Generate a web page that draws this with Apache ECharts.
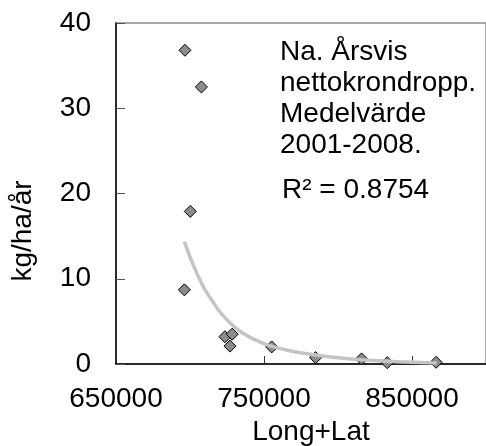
<!DOCTYPE html>
<html>
<head>
<meta charset="utf-8">
<script src="https://cdn.jsdelivr.net/npm/echarts@6/dist/echarts.min.js"></script>
<style>
html,body{margin:0;padding:0;background:#fff;}
#c{width:486px;height:446px;}
</style>
</head>
<body>
<div id="c"></div>
<script>
// Scatter points (Long+Lat, kg/ha/år)
var xValues = [696600, 707700, 700200, 696200, 723600, 728500, 727000, 755200, 784900, 815900, 833300, 866300];
var yValues = [36.8, 32.5, 17.9, 8.7, 3.2, 3.5, 2.1, 2.0, 0.75, 0.6, 0.15, 0.2];
// Exponential trendline
var trendX = [696200, 705000, 715000, 725000, 735000, 750000, 765000, 785000, 805000, 825000, 845000, 866700];
var trendY = [14.35, 10.5, 7.4, 5.2, 3.7, 2.4, 1.65, 1.05, 0.65, 0.4, 0.23, 0.12];
// Tick labels
var xTickLabels = [650000, 750000, 850000];
var xTickMarks = [750000, 850000];
var yTickLabels = [0, 10, 20, 30, 40];
var annotationLines = ['Na. Årsvis', 'nettokrondropp.', 'Medelvärde', '2001-2008.'];
var r2Text = 'R² = 0.8754';
var xName = 'Long+Lat';
var yName = 'kg/ha/år';

var FONT = '"Liberation Sans", Arial, sans-serif';
var FS = 28;

var chart = echarts.init(document.getElementById('c'), null, {renderer: 'canvas'});

var scatterData = xValues.map(function (x, i) { return [x, yValues[i]]; });
var trendData = trendX.map(function (x, i) { return [x, trendY[i]]; });

var graphics = [];
var lineY = [52.5, 83.5, 114.5, 145.5];
annotationLines.forEach(function (t, i) {
  graphics.push({type: 'text', x: 280, y: lineY[i], style: {text: t, font: FS + 'px ' + FONT, fill: '#000', verticalAlign: 'middle'}});
});
graphics.push({type: 'text', x: 282, y: 190, style: {text: r2Text, font: FS + 'px ' + FONT, fill: '#000', verticalAlign: 'middle'}});
graphics.push({type: 'text', x: 311, y: 432, style: {text: xName, font: FS + 'px ' + FONT, fill: '#000', align: 'center', verticalAlign: 'middle'}});
graphics.push({type: 'text', x: 23, y: 231, rotation: Math.PI / 2, style: {text: yName, font: FS + 'px ' + FONT, fill: '#000', align: 'center', verticalAlign: 'middle'}});

chart.setOption({
  animation: false,
  backgroundColor: '#fff',
  grid: {left: 116, top: 23, width: 374, height: 341, show: true, borderColor: '#8a8a8a', borderWidth: 1.5, backgroundColor: 'transparent'},
  xAxis: {
    type: 'value', min: 650000, max: 900000, interval: 50000,
    axisLine: {show: true, onZero: false, lineStyle: {color: '#000', width: 1.5}},
    axisTick: {show: true, inside: true, length: 8, customValues: xTickMarks, lineStyle: {color: '#333', width: 1}},
    axisLabel: {show: true, customValues: xTickLabels, margin: 21, fontFamily: FONT, fontSize: FS, color: '#000',
      formatter: function (v) { return String(v); }},
    splitLine: {show: false}
  },
  yAxis: {
    type: 'value', min: 0, max: 40, interval: 10,
    axisLine: {show: true, onZero: false, lineStyle: {color: '#000', width: 1.5}},
    axisTick: {show: true, inside: true, length: 9, lineStyle: {color: '#555', width: 1}},
    axisLabel: {show: true, customValues: yTickLabels, margin: 25, fontFamily: FONT, fontSize: FS, color: '#000',
      formatter: function (v) { return String(v); }},
    splitLine: {show: false}
  },
  series: [
    {
      type: 'scatter', data: scatterData, symbol: 'diamond', symbolSize: 12, z: 2,
      itemStyle: {color: '#8c8c8c', borderColor: '#000', borderWidth: 1, opacity: 1}
    },
    {
      type: 'line', data: trendData, smooth: 0.5, showSymbol: false, symbol: 'none', z: 3,
      lineStyle: {color: '#c4c4c4', width: 3.5}
    }
  ],
  graphic: graphics
});
</script>
</body>
</html>
